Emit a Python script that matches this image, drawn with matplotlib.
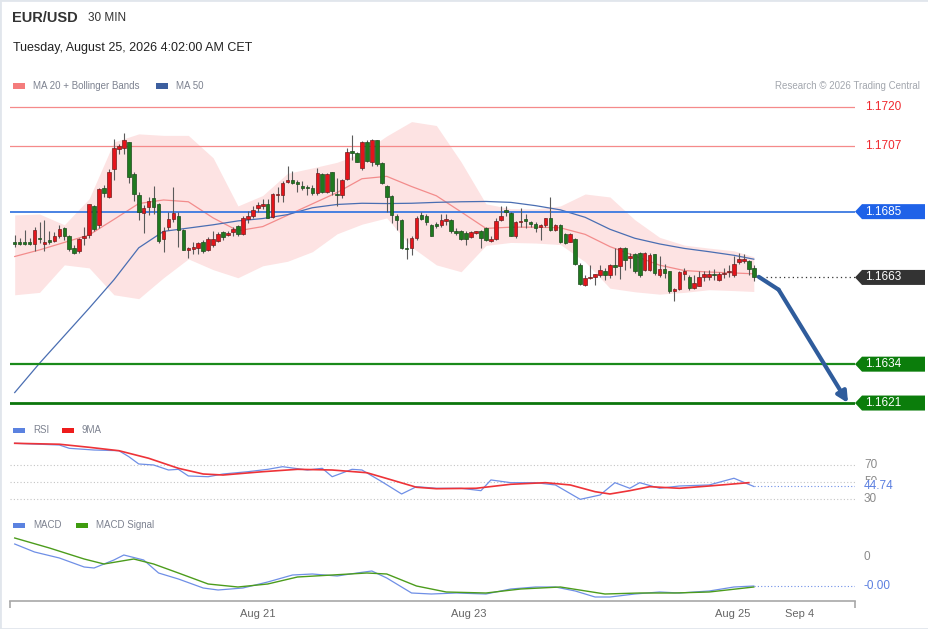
import numpy as np
import matplotlib.pyplot as plt
from matplotlib.patches import Polygon, Rectangle

plt.rcParams['font.family'] = ['Liberation Sans', 'DejaVu Sans']

# ---------------- EUR/USD 30 min candles ----------------
opens = [1.16748, 1.16747, 1.16748, 1.16750, 1.16741, 1.16761, 1.16743, 1.16756, 1.16752, 1.16769,
         1.16794, 1.16769, 1.16728, 1.16719, 1.16763, 1.16771, 1.16870, 1.16804, 1.16930, 1.16900,
         1.16992, 1.17060, 1.17062, 1.17082, 1.16977, 1.16907, 1.16845, 1.16866, 1.16895, 1.16877,
         1.16758, 1.16797, 1.16825, 1.16837, 1.16789, 1.16723, 1.16726, 1.16728, 1.16748, 1.16721,
         1.16739, 1.16753, 1.16781, 1.16772, 1.16781, 1.16803, 1.16776, 1.16826, 1.16834, 1.16862,
         1.16870, 1.16876, 1.16832, 1.16904, 1.16906, 1.16948, 1.16956, 1.16948, 1.16937, 1.16930,
         1.16930, 1.16912, 1.16975, 1.16917, 1.16981, 1.16908, 1.16904, 1.16960, 1.17053, 1.17045,
         1.16995, 1.17084, 1.17015, 1.17089, 1.17012, 1.16935, 1.16903, 1.16837, 1.16822, 1.16728,
         1.16730, 1.16761, 1.16839, 1.16837, 1.16806, 1.16810, 1.16806, 1.16820, 1.16822, 1.16786,
         1.16786, 1.16778, 1.16765, 1.16778, 1.16786, 1.16795, 1.16752, 1.16759, 1.16823, 1.16855,
         1.16846, 1.16767, 1.16815, 1.16824, 1.16815, 1.16809, 1.16797, 1.16804, 1.16828, 1.16788,
         1.16806, 1.16775, 1.16750, 1.16757, 1.16672, 1.16605, 1.16628, 1.16630, 1.16639, 1.16652,
         1.16639, 1.16672, 1.16667, 1.16730, 1.16695, 1.16708, 1.16712, 1.16656, 1.16656, 1.16708,
         1.16637, 1.16659, 1.16650, 1.16583, 1.16592, 1.16641, 1.16633, 1.16594, 1.16603, 1.16630,
         1.16632, 1.16641, 1.16622, 1.16641, 1.16647, 1.16639, 1.16683, 1.16686, 1.16686, 1.16663]
highs = [1.16772, 1.16761, 1.16789, 1.16763, 1.16800, 1.16817, 1.16823, 1.16786, 1.16781, 1.16804,
         1.16800, 1.16772, 1.16739, 1.16761, 1.16800, 1.16876, 1.16873, 1.16928, 1.16939, 1.16992,
         1.17093, 1.17075, 1.17113, 1.17084, 1.16981, 1.16917, 1.16873, 1.16900, 1.16937, 1.16879,
         1.16800, 1.16850, 1.16932, 1.16848, 1.16793, 1.16733, 1.16748, 1.16748, 1.16756, 1.16766,
         1.16784, 1.16781, 1.16784, 1.16786, 1.16797, 1.16806, 1.16834, 1.16853, 1.16870, 1.16882,
         1.16893, 1.16893, 1.16912, 1.16934, 1.16951, 1.17004, 1.16986, 1.16956, 1.16951, 1.16939,
         1.16939, 1.16995, 1.16979, 1.16979, 1.16984, 1.16962, 1.16960, 1.17062, 1.17107, 1.17049,
         1.17086, 1.17089, 1.17093, 1.17091, 1.17015, 1.16939, 1.16906, 1.16842, 1.16825, 1.16761,
         1.16767, 1.16834, 1.16848, 1.16842, 1.16808, 1.16815, 1.16842, 1.16842, 1.16824, 1.16795,
         1.16789, 1.16784, 1.16784, 1.16786, 1.16789, 1.16797, 1.16767, 1.16828, 1.16870, 1.16870,
         1.16850, 1.16819, 1.16862, 1.16842, 1.16819, 1.16817, 1.16808, 1.16830, 1.16900, 1.16808,
         1.16808, 1.16778, 1.16778, 1.16761, 1.16677, 1.16639, 1.16670, 1.16643, 1.16672, 1.16663,
         1.16675, 1.16730, 1.16733, 1.16732, 1.16711, 1.16711, 1.16715, 1.16715, 1.16711, 1.16710,
         1.16700, 1.16675, 1.16652, 1.16594, 1.16650, 1.16663, 1.16639, 1.16639, 1.16650, 1.16652,
         1.16656, 1.16659, 1.16648, 1.16661, 1.16670, 1.16700, 1.16711, 1.16708, 1.16689, 1.16670]
lows = [1.16733, 1.16737, 1.16739, 1.16737, 1.16717, 1.16745, 1.16717, 1.16743, 1.16748, 1.16761,
        1.16756, 1.16717, 1.16708, 1.16711, 1.16739, 1.16761, 1.16784, 1.16795, 1.16900, 1.16895,
        1.16956, 1.17042, 1.17042, 1.16945, 1.16884, 1.16823, 1.16778, 1.16839, 1.16842, 1.16745,
        1.16715, 1.16789, 1.16817, 1.16733, 1.16721, 1.16695, 1.16708, 1.16710, 1.16711, 1.16719,
        1.16733, 1.16748, 1.16756, 1.16768, 1.16767, 1.16770, 1.16772, 1.16812, 1.16830, 1.16850,
        1.16859, 1.16828, 1.16828, 1.16882, 1.16882, 1.16945, 1.16942, 1.16917, 1.16923, 1.16904,
        1.16904, 1.16906, 1.16912, 1.16912, 1.16906, 1.16869, 1.16897, 1.16956, 1.17023, 1.17015,
        1.16990, 1.17015, 1.17001, 1.17001, 1.16942, 1.16850, 1.16812, 1.16789, 1.16726, 1.16692,
        1.16706, 1.16756, 1.16823, 1.16806, 1.16769, 1.16795, 1.16800, 1.16806, 1.16780, 1.16772,
        1.16756, 1.16739, 1.16761, 1.16775, 1.16728, 1.16752, 1.16748, 1.16756, 1.16819, 1.16837,
        1.16768, 1.16761, 1.16797, 1.16795, 1.16800, 1.16781, 1.16756, 1.16797, 1.16786, 1.16784,
        1.16745, 1.16741, 1.16748, 1.16672, 1.16605, 1.16603, 1.16626, 1.16605, 1.16633, 1.16622,
        1.16628, 1.16639, 1.16626, 1.16656, 1.16661, 1.16645, 1.16633, 1.16650, 1.16650, 1.16639,
        1.16630, 1.16628, 1.16578, 1.16552, 1.16589, 1.16622, 1.16589, 1.16592, 1.16600, 1.16617,
        1.16622, 1.16622, 1.16617, 1.16628, 1.16633, 1.16633, 1.16675, 1.16678, 1.16639, 1.16617]
closes = [1.16743, 1.16742, 1.16743, 1.16741, 1.16788, 1.16759, 1.16750, 1.16748, 1.16768, 1.16792,
          1.16769, 1.16725, 1.16711, 1.16758, 1.16769, 1.16876, 1.16793, 1.16925, 1.16912, 1.16984,
          1.17062, 1.17070, 1.17089, 1.16966, 1.16908, 1.16848, 1.16862, 1.16886, 1.16867, 1.16752,
          1.16784, 1.16825, 1.16845, 1.16789, 1.16723, 1.16730, 1.16732, 1.16745, 1.16719, 1.16757,
          1.16759, 1.16775, 1.16766, 1.16777, 1.16792, 1.16775, 1.16830, 1.16835, 1.16856, 1.16873,
          1.16875, 1.16830, 1.16908, 1.16910, 1.16946, 1.16956, 1.16945, 1.16942, 1.16930, 1.16928,
          1.16912, 1.16979, 1.16917, 1.16975, 1.16919, 1.16904, 1.16955, 1.17051, 1.17046, 1.17017,
          1.17082, 1.17020, 1.17089, 1.17009, 1.16945, 1.16900, 1.16839, 1.16823, 1.16728, 1.16726,
          1.16761, 1.16828, 1.16826, 1.16815, 1.16770, 1.16802, 1.16822, 1.16825, 1.16786, 1.16778,
          1.16759, 1.16759, 1.16781, 1.16784, 1.16761, 1.16756, 1.16759, 1.16819, 1.16837, 1.16850,
          1.16770, 1.16817, 1.16819, 1.16819, 1.16808, 1.16795, 1.16806, 1.16828, 1.16788, 1.16804,
          1.16748, 1.16745, 1.16775, 1.16675, 1.16608, 1.16628, 1.16633, 1.16641, 1.16656, 1.16639,
          1.16672, 1.16665, 1.16730, 1.16689, 1.16703, 1.16650, 1.16639, 1.16711, 1.16706, 1.16645,
          1.16659, 1.16645, 1.16583, 1.16592, 1.16648, 1.16650, 1.16594, 1.16611, 1.16633, 1.16641,
          1.16642, 1.16637, 1.16641, 1.16645, 1.16653, 1.16675, 1.16690, 1.16692, 1.16659, 1.16630]

# overlays, read every 5th candle (plus the last one)
ma20 = [1.16700, 1.16722, 1.16747, 1.16772, 1.16824, 1.16877, 1.16889, 1.16883, 1.16829, 1.16786,
        1.16800, 1.16838, 1.16876, 1.16914, 1.16960, 1.16968, 1.16934, 1.16903, 1.16849, 1.16794,
        1.16798, 1.16798, 1.16796, 1.16774, 1.16733, 1.16702, 1.16671, 1.16653, 1.16648, 1.16645, 1.16642]
ma50 = [1.16245, 1.16343, 1.16435, 1.16527, 1.16622, 1.16729, 1.16784, 1.16795, 1.16806, 1.16819,
        1.16827, 1.16840, 1.16863, 1.16874, 1.16878, 1.16877, 1.16878, 1.16881, 1.16883, 1.16884,
        1.16881, 1.16870, 1.16856, 1.16831, 1.16791, 1.16761, 1.16742, 1.16727, 1.16716, 1.16704, 1.16691]
bb_upper = [1.16839, 1.16842, 1.16806, 1.16893, 1.17083, 1.17110, 1.17105, 1.17105, 1.17030, 1.16869,
            1.16904, 1.16978, 1.16996, 1.17015, 1.17046, 1.17103, 1.17151, 1.17138, 1.17016, 1.16876,
            1.16860, 1.16859, 1.16869, 1.16909, 1.16899, 1.16823, 1.16764, 1.16738, 1.16728, 1.16719, 1.16699]
bb_lower = [1.16572, 1.16580, 1.16672, 1.16662, 1.16572, 1.16559, 1.16629, 1.16692, 1.16656, 1.16629,
            1.16669, 1.16684, 1.16716, 1.16776, 1.16808, 1.16829, 1.16732, 1.16672, 1.16649, 1.16737,
            1.16747, 1.16745, 1.16740, 1.16682, 1.16594, 1.16582, 1.16574, 1.16580, 1.16589, 1.16586, 1.16583]

# support / resistance levels
levels = [1.1720, 1.1707, 1.1685, 1.1634, 1.1621]
level_style = ['res', 'res', 'pivot', 'sup', 'sup2']

# forecast arrow (candle index, price)
fc_idx = [150, 154, 168]
fc_price = [1.16632, 1.16589, 1.16210]

# RSI and its 9MA (candle index, value)
rsi_idx = [0, 9, 11, 16, 21, 23, 25, 28, 31, 33, 35, 39, 42, 47, 51, 54, 59, 62, 64, 68,
           70, 74, 78, 81, 85, 90, 94, 96, 100, 105, 109, 114, 118, 121, 124, 126, 130, 134, 140, 145, 149]
rsi = [95.5, 93.5, 89.6, 87.6, 86.8, 79.8, 71.2, 70.0, 64.1, 64.9, 57.1, 56.2, 59.4, 62.1, 64.9, 68.0,
       64.1, 66.1, 56.2, 64.9, 64.1, 50.4, 35.9, 44.5, 42.6, 42.6, 39.8, 52.4, 49.2, 49.2, 46.5, 29.6,
       34.7, 49.2, 42.6, 49.2, 42.6, 45.3, 46.5, 54.4, 44.74]
rsi_ma_idx = [0, 9, 15, 21, 27, 33, 38, 42, 50, 57, 64, 71, 76, 81, 85, 93, 100, 107, 112, 117,
              120, 124, 128, 134, 140, 148]
rsi_ma = [95.5, 94.4, 90.8, 86.8, 77.9, 66.1, 59.4, 58.2, 62.1, 64.9, 64.1, 60.9, 52.4, 43.8, 42.1,
          42.6, 47.3, 49.2, 46.5, 38.6, 35.9, 39.8, 44.5, 42.6, 45.3, 49.2]

# MACD and signal (candle index, value)
macd_idx = [0, 4, 9, 14, 16, 20, 22, 26, 29, 33, 38, 41, 46, 51, 56, 60, 65, 69, 72, 75,
            80, 84, 89, 95, 100, 105, 109, 113, 117, 120, 125, 130, 134, 140, 145, 149]
macd = [0.00013, 0.00005, -0.00001, -0.00010, -0.00011, -0.00003, 0.00002, -0.00003, -0.00016, -0.00022,
        -0.00031, -0.00033, -0.00031, -0.00025, -0.00018, -0.00017, -0.00019, -0.00016, -0.00014, -0.00021,
        -0.00036, -0.00037, -0.00036, -0.00037, -0.00032, -0.00030, -0.00030, -0.00034, -0.00040, -0.00040,
        -0.00037, -0.00035, -0.00036, -0.00034, -0.00030, -0.00029]
signal_idx = [0, 7, 14, 18, 24, 28, 33, 39, 45, 51, 57, 64, 71, 75, 81, 87, 95, 102, 110, 119,
              126, 133, 140, 149]
signal = [0.00019, 0.00009, -0.00002, -0.00007, -0.00002, -0.00007, -0.00016, -0.00027, -0.00030, -0.00027,
          -0.00020, -0.00018, -0.00016, -0.00017, -0.00029, -0.00035, -0.00036, -0.00032, -0.00030, -0.00037,
          -0.00036, -0.00036, -0.00035, -0.00030]

tick_idx = [48.9, 91.6, 144.8, 158.3]
tick_labels = ['Aug 21', 'Aug 23', 'Aug 25', 'Sep 4']

##################### FIGURE #####################
W, H = 929, 629
fig = plt.figure(figsize=(W / 100, H / 100), dpi=100)
fig.patch.set_facecolor('white')


def fx(px):
    return px / W


def fy(py):
    return 1 - py / H


X0, X1 = 10, 855


def add_ax(top, bottom):
    a = fig.add_axes([fx(X0), fy(bottom), (X1 - X0) / W, (bottom - top) / H])
    a.patch.set_alpha(0)
    for s in a.spines.values():
        s.set_visible(False)
    a.set_xticks([])
    a.set_yticks([])
    return a


def axfrac(px):
    return (px - X0) / (X1 - X0)


ax = add_ax(95, 415)
ax_rsi = add_ax(437, 507)
ax_macd = add_ax(532, 601)

n = len(closes)
xlim = (-0.95, 169.4)
for a in (ax, ax_rsi, ax_macd):
    a.set_xlim(*xlim)

ylo, yhi = 1.16170, 1.17240
ax.set_ylim(ylo, yhi)
px_price = (yhi - ylo) / 320.0

################# price panel #################
o = np.array(opens)
h = np.array(highs)
l = np.array(lows)
c = np.array(closes)
idx = np.arange(n)
ov_idx = np.r_[np.arange(0, n, 5), n - 1]

ax.fill_between(ov_idx, bb_lower, bb_upper, color='#fde3e3', lw=0, zorder=1)
ax.plot(ov_idx, ma20, color='#f38c8c', lw=0.9, zorder=2)
ax.plot(ov_idx, ma50, color='#4a6eb2', lw=0.9, zorder=2)

up = c >= o
body_lo = np.minimum(o, c)
body_h = np.maximum(np.abs(c - o), 0.00003)
ax.vlines(idx, l, h, color='#5a5a5a', lw=0.8, zorder=3)
ax.bar(idx[up], body_h[up], bottom=body_lo[up], width=0.72, color='#e5141b',
       edgecolor='#6e2020', lw=0.5, zorder=4)
ax.bar(idx[~up], body_h[~up], bottom=body_lo[~up], width=0.72, color='#1f7a1f',
       edgecolor='#1d4a1d', lw=0.5, zorder=4)

line_col = {'res': '#f58a8a', 'pivot': '#3a78e0', 'sup': '#1a8a1a', 'sup2': '#0c760c'}
line_w = {'res': 0.9, 'pivot': 1.3, 'sup': 1.6, 'sup2': 2.0}
tag_col = {'pivot': '#1f62e8', 'sup': '#0b7d0b', 'sup2': '#0b7d0b'}

tr = ax.get_yaxis_transform()
hh = 7.5 * px_price


def price_tag(value, face, text_col='white'):
    if face is not None:
        pts = [(axfrac(855), value), (axfrac(862), value + hh), (axfrac(925), value + hh),
               (axfrac(925), value - hh), (axfrac(862), value - hh)]
        ax.add_patch(Polygon(pts, closed=True, transform=tr, facecolor=face,
                             edgecolor='none', clip_on=False, zorder=6))
    ax.text(axfrac(865), value, f'{value:.4f}', transform=tr, color=text_col,
            fontsize=8.5, va='center', ha='left', zorder=7, clip_on=False)


for lv, st in zip(levels, level_style):
    ax.axhline(lv, color=line_col[st], lw=line_w[st], zorder=2)
    if st == 'res':
        price_tag(lv, None, '#f0282e')
    else:
        price_tag(lv, tag_col[st])

last = closes[-1]
ax.hlines(last, fc_idx[0] + 1.5, xlim[1], color='#333333', lw=0.9,
          linestyles=(0, (1, 2.5)), zorder=2)
price_tag(last, '#333333')

# forecast arrow
ax.plot(fc_idx[:2], fc_price[:2], color='#2f5c9c', lw=3, solid_capstyle='round', zorder=5)
ax.annotate('', xy=(fc_idx[2], fc_price[2]), xytext=(fc_idx[1], fc_price[1]),
            arrowprops=dict(arrowstyle='-|>', color='#2f5c9c', lw=3,
                            mutation_scale=16, shrinkA=0, shrinkB=0), zorder=5)

################# RSI panel #################
ax_rsi.set_ylim(20.6, 102.9)
for v in (70, 50, 30):
    ax_rsi.axhline(v, color='#c4c4c4', lw=0.8, ls=(0, (1, 2)))
ax_rsi.plot(rsi_idx, rsi, color='#6f8fe6', lw=0.9)
ax_rsi.plot(rsi_ma_idx, rsi_ma, color='#ee3338', lw=1.2)
ax_rsi.hlines(rsi[-1], rsi_idx[-1], xlim[1], color='#6f8fe6', lw=0.8, linestyles=(0, (1, 2)))
rtr = ax_rsi.get_yaxis_transform()
for v in (70, 50, 30):
    ax_rsi.text(axfrac(864), v, str(v), transform=rtr, color='#8a8a8a', fontsize=8.5,
                va='center', ha='left', clip_on=False, zorder=3)
ax_rsi.text(axfrac(864), rsi[-1], f'{rsi[-1]:.2f}', transform=rtr, color='#5b7fe0',
            fontsize=8.5, va='center', ha='left', clip_on=False, zorder=4,
            bbox=dict(facecolor='white', edgecolor='none', pad=0.6))

################# MACD panel #################
ax_macd.set_ylim(-0.00044, 0.00025)
ax_macd.plot(macd_idx, macd, color='#6f8fe6', lw=0.9)
ax_macd.plot(signal_idx, signal, color='#4c9c1c', lw=1.0)
ax_macd.hlines(macd[-1], macd_idx[-1], xlim[1], color='#6f8fe6', lw=0.8, linestyles=(0, (1, 2)))
mtr = ax_macd.get_yaxis_transform()
ax_macd.text(axfrac(864), 0, '0', transform=mtr, color='#8a8a8a', fontsize=8.5,
             va='center', ha='left', clip_on=False)
ax_macd.text(axfrac(864), macd[-1], f'{macd[-1]:.2f}', transform=mtr, color='#5b7fe0',
             fontsize=8.5, va='center', ha='left', clip_on=False)

ax_macd.spines['bottom'].set_visible(True)
ax_macd.spines['bottom'].set_color('#a8a8a8')
ax_macd.spines['bottom'].set_linewidth(1.2)
ax_macd.set_xticks(tick_idx)
ax_macd.set_xticklabels(tick_labels)
ax_macd.tick_params(axis='x', length=0, labelsize=8, labelcolor='#666666', pad=6)
ax_macd.set_xticks(list(xlim), minor=True)
ax_macd.tick_params(axis='x', which='minor', length=5, width=1.2, color='#a8a8a8')

################# header / legends #################
fig.text(fx(12), fy(18), 'EUR/USD', fontsize=10.5, weight='bold', color='#333333', va='center')
fig.text(fx(88), fy(18), '30 MIN', fontsize=8.5, color='#333333', va='center')
fig.text(fx(13), fy(48), 'Tuesday, August 25, 2026 4:02:00 AM CET', fontsize=9,
         color='#222222', va='center')


def legend_item(x, y, col, label):
    fig.add_artist(Rectangle((fx(x), fy(y + 2.5)), 12 / W, 5 / H, transform=fig.transFigure,
                             facecolor=col, edgecolor='none'))
    fig.text(fx(x + 20), fy(y), label, fontsize=7, color='#7d8290', va='center')


legend_item(13, 86, '#f47c7c', 'MA 20 + Bollinger Bands')
legend_item(156, 86, '#3d5f9f', 'MA 50')
legend_item(13, 430, '#5b82e0', 'RSI')
legend_item(62, 430, '#ee1c1c', '9MA')
legend_item(13, 525, '#5b82e0', 'MACD')
legend_item(76, 525, '#3f9c10', 'MACD Signal')
fig.text(fx(920), fy(86), 'Research \u00a9 2026 Trading Central', fontsize=7,
         color='#a3a7ae', ha='right', va='center')

fig.add_artist(Rectangle((0, 0), 1, 1, transform=fig.transFigure, fill=False,
                         edgecolor='#e1e6ec', lw=2))

fig.savefig('out.png', dpi=100)
